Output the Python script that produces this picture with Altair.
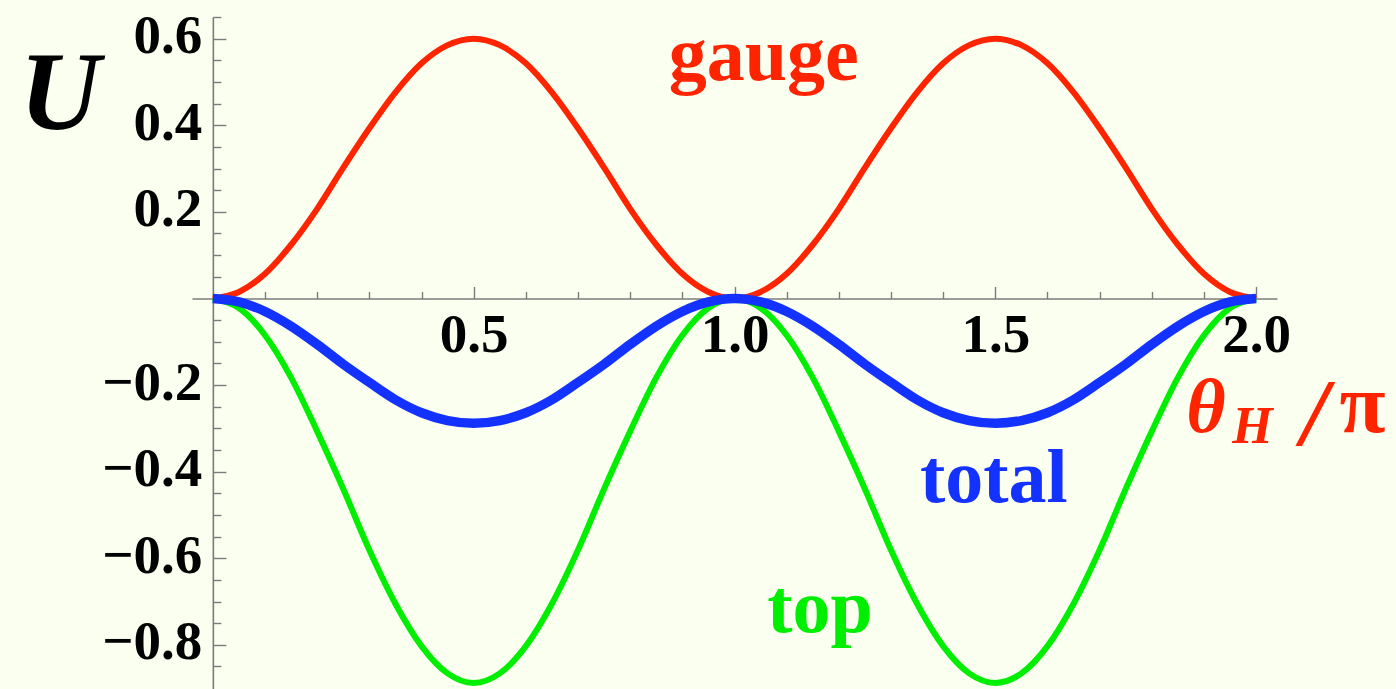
import altair as alt
import pandas as pd

# theta_H / pi sample points
theta = [0.00, 0.05, 0.10, 0.15, 0.20, 0.25, 0.30, 0.35, 0.40, 0.45,
         0.50, 0.55, 0.60, 0.65, 0.70, 0.75, 0.80, 0.85, 0.90, 0.95,
         1.00, 1.05, 1.10, 1.15, 1.20, 1.25, 1.30, 1.35, 1.40, 1.45,
         1.50, 1.55, 1.60, 1.65, 1.70, 1.75, 1.80, 1.85, 1.90, 1.95, 2.00]

u_gauge = [0.000, 0.015, 0.057, 0.124, 0.207, 0.302, 0.393, 0.476, 0.543, 0.585,
           0.600, 0.585, 0.543, 0.476, 0.393, 0.302, 0.207, 0.124, 0.057, 0.015,
           0.000, 0.015, 0.057, 0.124, 0.207, 0.302, 0.393, 0.476, 0.543, 0.585,
           0.600, 0.585, 0.543, 0.476, 0.393, 0.302, 0.207, 0.124, 0.057, 0.015, 0.000]

u_top = [0.000, -0.022, -0.085, -0.183, -0.307, -0.440, -0.581, -0.705, -0.803, -0.866,
         -0.888, -0.866, -0.803, -0.705, -0.581, -0.440, -0.307, -0.183, -0.085, -0.022,
         0.000, -0.022, -0.085, -0.183, -0.307, -0.440, -0.581, -0.705, -0.803, -0.866,
         -0.888, -0.866, -0.803, -0.705, -0.581, -0.440, -0.307, -0.183, -0.085, -0.022, 0.000]

u_total = [0.000, -0.008, -0.030, -0.064, -0.106, -0.152, -0.194, -0.234, -0.264, -0.282,
           -0.288, -0.282, -0.264, -0.234, -0.194, -0.152, -0.106, -0.064, -0.030, -0.008,
           0.000, -0.008, -0.030, -0.064, -0.106, -0.152, -0.194, -0.234, -0.264, -0.282,
           -0.288, -0.282, -0.264, -0.234, -0.194, -0.152, -0.106, -0.064, -0.030, -0.008, 0.000]

RED = "#ff2400"
GREEN = "#00ee00"
BLUE = "#1432ff"

x_label_values = [0.5, 1.0, 1.5, 2.0]
y_label_values = [-0.8, -0.6, -0.4, -0.2, 0.2, 0.4, 0.6]
x_tick_values = [0.1, 0.2, 0.3, 0.4, 0.5, 0.6, 0.7, 0.8, 0.9, 1.0,
                 1.1, 1.2, 1.3, 1.4, 1.5, 1.6, 1.7, 1.8, 1.9, 2.0]
y_tick_values = [-0.85, -0.8, -0.75, -0.7, -0.65, -0.6, -0.55, -0.5, -0.45, -0.4,
                 -0.35, -0.3, -0.25, -0.2, -0.15, -0.1, -0.05,
                 0.05, 0.1, 0.15, 0.2, 0.25, 0.3, 0.35, 0.4, 0.45, 0.5, 0.55, 0.6, 0.65]

# curve labels
note_text = ["gauge", "total", "top"]
note_x = [1.056, 1.497, 1.164]
note_y = [0.504, -0.470, -0.770]
note_color = [RED, BLUE, GREEN]

notes = pd.DataFrame({"x": note_x, "y": note_y, "label": note_text, "color": note_color})

W, H = 1085, 672
X_DOMAIN = [-0.04, 2.04]
Y_DOMAIN = [-0.902, 0.65]
x_scale = alt.Scale(domain=X_DOMAIN, nice=False, zero=False)
y_scale = alt.Scale(domain=Y_DOMAIN, nice=False, zero=False)

# pixel distance from plot edges to the zero lines
x0_px = (0 - X_DOMAIN[0]) / (X_DOMAIN[1] - X_DOMAIN[0]) * W
y0_from_top = (Y_DOMAIN[1] - 0) / (Y_DOMAIN[1] - Y_DOMAIN[0]) * H
y0_from_bottom = H - y0_from_top

AXIS_GRAY = "#7c7c7c"
NUM_FONT = "Liberation Serif"
TEXT_FONT = "Liberation Serif"

label_common = dict(
    ticks=False, domain=False, grid=False, title=None,
    labelFont=NUM_FONT, labelFontWeight="bold", labelFontSize=55,
    labelColor="black", labelOverlap=False, labelFlush=False, labelBound=False,
)

x_labels_axis = alt.Axis(orient="bottom", offset=-y0_from_bottom, values=x_label_values,
                         format=".1f", labelPadding=10, zindex=1, **label_common)
y_labels_axis = alt.Axis(orient="left", offset=-x0_px, values=y_label_values,
                         format=".1f", labelPadding=11, labelOffset=-3, **label_common)

tick_common = dict(
    labels=False, grid=False, title=None, domain=True,
    domainColor=AXIS_GRAY, domainWidth=1.6, tickColor=AXIS_GRAY, tickWidth=1.4,
)
x_ticks_axis = alt.Axis(
    orient="top", offset=-y0_from_top, values=x_tick_values,
    tickSize={"condition": {"test": "abs(datum.value * 2 - round(datum.value * 2)) < 0.001", "value": 12}, "value": 7},
    **tick_common)
y_ticks_axis = alt.Axis(
    orient="right", offset=-(W - x0_px), values=y_tick_values,
    tickSize={"condition": {"test": "abs(datum.value * 5 - round(datum.value * 5)) < 0.001", "value": 13}, "value": 8},
    **tick_common)


def curve(values, color, width, x_axis=None, y_axis=None):
    df = pd.DataFrame({"theta": theta, "U": values})
    return alt.Chart(df).mark_line(
        interpolate="monotone", strokeCap="butt", color=color, strokeWidth=width
    ).encode(
        x=alt.X("theta:Q", scale=x_scale, axis=x_axis),
        y=alt.Y("U:Q", scale=y_scale, axis=y_axis),
        order=alt.Order("theta:Q"),
    )


gauge_line = curve(u_gauge, RED, 6)
top_line = curve(u_top, GREEN, 6)
total_line = curve(u_total, BLUE, 9.5, x_labels_axis, y_labels_axis)

note_layer = alt.Chart(notes).mark_text(
    font=TEXT_FONT, fontWeight="bold", fontSize=76, align="center", baseline="alphabetic"
).encode(
    x=alt.X("x:Q", scale=x_scale, axis=x_ticks_axis),
    y=alt.Y("y:Q", scale=y_scale, axis=y_ticks_axis),
    text="label:N",
    color=alt.Color("color:N", scale=None),
)


def word(text, x, y, size, color, style="normal", align="left", weight="bold"):
    df = pd.DataFrame({"x": [x], "y": [y], "t": [text]})
    return alt.Chart(df).mark_text(
        font=TEXT_FONT, fontWeight=weight, fontStyle=style, fontSize=size,
        align=align, baseline="alphabetic", color=color,
    ).encode(
        x=alt.X("x:Q", scale=x_scale, axis=None),
        y=alt.Y("y:Q", scale=y_scale, axis=None),
        text="t:N",
    )


u_title = word("U", -0.293, 0.392, 112, "black", style="italic", align="center")
x_theta = word("θ", 1.866, -0.308, 76, RED, style="italic")
x_sub = word("H", 1.954, -0.334, 52, RED, style="italic")
x_slash = word("/", 2.112, -0.339, 96, RED, style="italic", align="center")
x_pi = word("π", 2.160, -0.308, 84, RED)

chart = alt.layer(
    gauge_line, top_line, total_line, note_layer, u_title, x_theta, x_sub, x_slash, x_pi
).resolve_axis(
    x="independent", y="independent"
).properties(
    width=W, height=H,
    padding={"left": 192, "top": 17, "right": 119, "bottom": 0},
    autosize=alt.AutoSizeParams(type="none"),
    background="#fafff0",
).configure_view(stroke=None)

chart.save("out.html", embed_options={"renderer": "svg", "actions": False})
